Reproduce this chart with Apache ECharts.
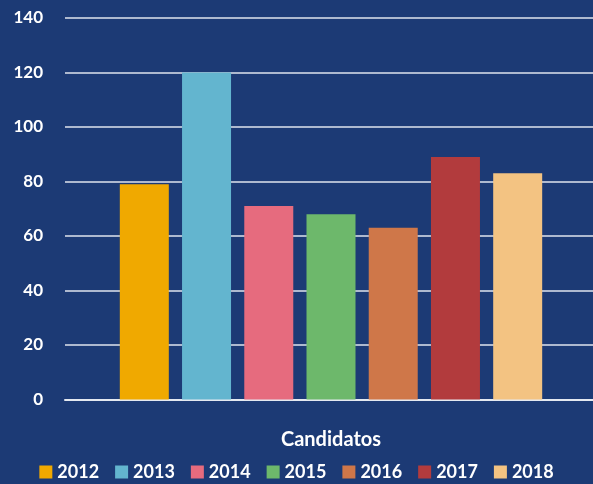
<!DOCTYPE html>
<html>
<head>
<meta charset="utf-8">
<script src="https://cdn.jsdelivr.net/npm/echarts@6/dist/echarts.min.js"></script>
<style>
  html, body { margin: 0; padding: 0; background: #1c3a75; }
  #main { width: 593px; height: 484px; }
</style>
</head>
<body>
<div id="main"></div>
<script>
var myChart = echarts.init(document.getElementById('main'));

// datos
var categorias = ['Candidatos'];
var anios = ['2012', '2013', '2014', '2015', '2016', '2017', '2018'];
var valores = [79, 120, 71, 68, 63, 89, 83];
var colores = ['#f0a900', '#63b5cf', '#e66b7e', '#6db86b', '#cf7749', '#b23b3d', '#f3c382'];
var ticksY = [0, 20, 40, 60, 80, 100, 120, 140];

var series = [];
anios.forEach(function (a, i) {
    series.push({
        name: a,
        type: 'bar',
        data: [valores[i]],
        barWidth: 49,
        barGap: '27%',
        itemStyle: { color: colores[i] }
    });
});

var option = {
    backgroundColor: '#1c3a75',
    textStyle: { fontFamily: 'Lato' },
    grid: { left: 65, width: 532, top: 18, bottom: 84.5, outerBoundsMode: 'none' },
    legend: {
        data: anios,
        top: 463,
        left: 'center',
        padding: 0,
        icon: 'rect',
        itemWidth: 13,
        itemHeight: 13,
        itemGap: 16,
        textStyle: { color: '#ffffff', fontSize: 18, fontWeight: 'bold', fontFamily: 'Lato' }
    },
    xAxis: {
        type: 'category',
        data: categorias,
        name: 'Candidatos',
        nameLocation: 'middle',
        nameGap: 30,
        nameTextStyle: { color: '#ffffff', fontSize: 20, fontWeight: 'bold', fontFamily: 'Lato' },
        axisLabel: { show: false },
        axisTick: { show: false },
        axisLine: { lineStyle: { color: '#e4e9f0', width: 2 } }
    },
    yAxis: {
        type: 'value',
        min: ticksY[0],
        max: ticksY[ticksY.length - 1],
        interval: 20,
        axisLabel: { color: '#ffffff', fontSize: 17, fontWeight: 'bold', margin: 22 },
        axisLine: { show: false },
        axisTick: { show: false },
        splitLine: { lineStyle: { color: '#dfe5ee', width: 1.5 } }
    },
    series: series
};
myChart.setOption(option);
</script>
</body>
</html>
